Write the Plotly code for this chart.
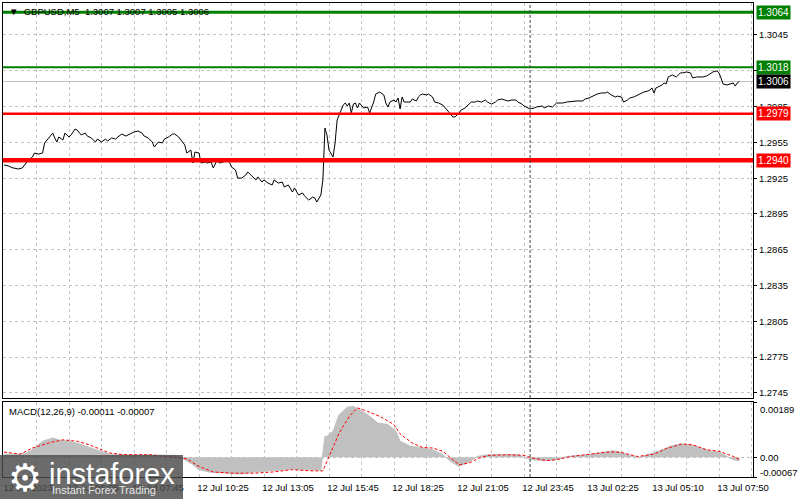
import plotly.graph_objects as go

# ---------------- data (bar index = 5-minute bars counted from 12 Jul 02:25) ----------------
price_bar = [0, 2, 4, 5, 7, 9, 10, 12, 14, 15, 17, 19, 20, 22, 24, 25, 26, 27, 29, 30, 32, 33, 35, 36, 38, 40,
             41, 43, 45, 46, 48, 50, 51, 53, 55, 56, 58, 60, 61, 63, 64, 66, 68, 69, 71, 73, 74, 76, 78, 79, 81,
             83, 84, 86, 88, 89, 90, 92, 93, 94, 96, 97, 99, 100, 102, 103, 105, 106, 108, 110, 111, 112, 114,
             115, 117, 119, 120, 122, 124, 125, 127, 128, 130, 132, 133, 135, 137, 138, 140, 142, 143, 145, 147,
             148, 150, 152, 153, 154, 156, 157, 158, 159, 160, 162, 163, 164, 166, 167, 168, 169, 170, 171, 172,
             173, 174, 175, 177, 179, 180, 182, 183, 185, 187, 188, 189, 190, 192, 193, 194, 195, 196, 197, 198,
             200, 201, 203, 204, 205, 206, 208, 209, 211, 212, 214, 216, 217, 219, 221, 222, 224, 225, 227, 228,
             230, 232, 233, 235, 237, 238, 240, 242, 243, 245, 247, 248, 250, 252, 253, 255, 256, 258, 259, 261,
             262, 265, 266, 268, 270, 272, 275, 277, 280, 282, 285, 286, 288, 289, 291, 292, 294, 296, 297, 299,
             301, 302, 304, 305, 307, 308, 310, 312, 314, 315, 317, 318, 319, 320, 321, 322, 324, 325, 326, 327,
             329, 331, 333, 334, 336, 338, 339, 341, 343, 344, 346, 348, 349, 351, 352, 353, 354, 356, 357, 359,
             360, 361, 362]
price_close = [1.29360, 1.29354, 1.29338, 1.29335, 1.29327, 1.29335, 1.29360, 1.29402, 1.29427, 1.29461,
               1.29452, 1.29461, 1.29545, 1.29587, 1.29628, 1.29587, 1.29553, 1.29595, 1.29570, 1.29628,
               1.29595, 1.29612, 1.29662, 1.29654, 1.29612, 1.29628, 1.29603, 1.29587, 1.29553, 1.29578,
               1.29553, 1.29578, 1.29561, 1.29587, 1.29578, 1.29595, 1.29620, 1.29603, 1.29612, 1.29628,
               1.29637, 1.29645, 1.29628, 1.29603, 1.29587, 1.29553, 1.29511, 1.29553, 1.29545, 1.29578,
               1.29595, 1.29620, 1.29620, 1.29595, 1.29545, 1.29528, 1.29461, 1.29486, 1.29377, 1.29469,
               1.29461, 1.29377, 1.29385, 1.29377, 1.29385, 1.29335, 1.29402, 1.29377, 1.29385, 1.29419,
               1.29385, 1.29344, 1.29318, 1.29251, 1.29251, 1.29276, 1.29302, 1.29268, 1.29235, 1.29260,
               1.29218, 1.29235, 1.29209, 1.29193, 1.29235, 1.29209, 1.29218, 1.29176, 1.29193, 1.29134,
               1.29168, 1.29109, 1.29126, 1.29100, 1.29067, 1.29092, 1.29084, 1.29050, 1.29109, 1.29235,
               1.29670, 1.29612, 1.29486, 1.29427, 1.29545, 1.29737, 1.29821, 1.29863, 1.29880, 1.29855,
               1.29880, 1.29796, 1.29871, 1.29880, 1.29838, 1.29880, 1.29838, 1.29846, 1.29796, 1.29888,
               1.29955, 1.29972, 1.29947, 1.29880, 1.29846, 1.29888, 1.29905, 1.29888, 1.29922, 1.29830,
               1.29930, 1.29888, 1.29888, 1.29888, 1.29913, 1.29897, 1.29930, 1.29947, 1.29955, 1.29947,
               1.29955, 1.29930, 1.29888, 1.29880, 1.29863, 1.29846, 1.29804, 1.29763, 1.29763, 1.29796,
               1.29821, 1.29838, 1.29855, 1.29888, 1.29888, 1.29897, 1.29888, 1.29905, 1.29888, 1.29871,
               1.29888, 1.29905, 1.29913, 1.29905, 1.29897, 1.29905, 1.29905, 1.29888, 1.29871, 1.29855,
               1.29838, 1.29830, 1.29838, 1.29846, 1.29855, 1.29838, 1.29855, 1.29846, 1.29880, 1.29880,
               1.29888, 1.29897, 1.29897, 1.29897, 1.29913, 1.29922, 1.29930, 1.29947, 1.29955, 1.29964,
               1.29964, 1.29972, 1.29947, 1.29930, 1.29938, 1.29930, 1.29888, 1.29905, 1.29922, 1.29930,
               1.29947, 1.29964, 1.29972, 1.29980, 1.29989, 1.30006, 1.29964, 1.30006, 1.30014, 1.30031,
               1.30048, 1.30039, 1.30098, 1.30115, 1.30098, 1.30132, 1.30132, 1.30140, 1.30132, 1.30090,
               1.30098, 1.30098, 1.30098, 1.30107, 1.30132, 1.30140, 1.30149, 1.30132, 1.30090, 1.30039,
               1.30031, 1.30039, 1.30048, 1.30022, 1.30048, 1.30060]

macd_bar = [0, 8, 11, 14, 19, 24, 28, 32, 37, 42, 47, 52, 60, 72, 84, 89, 93, 96, 101, 110, 116, 123, 132,
            142, 151, 156, 158, 159, 162, 165, 169, 172, 175, 179, 184, 189, 193, 195, 200, 205, 211, 216, 220,
            224, 228, 233, 238, 244, 253, 257, 260, 267, 272, 277, 285, 293, 300, 303, 310, 313, 317, 323, 328,
            333, 338, 343, 348, 352, 356, 359, 362]
macd_main = [0.00011, 0.00011, 0.00015, 0.00026, 0.00055, 0.00066, 0.00058, 0.00055, 0.00046, 0.00034,
             0.00021, 0.00011, 0.00009, 0.00009, 0.00007, -0.00008, -0.00025, -0.00042, -0.00050, -0.00054,
             -0.00057, -0.00050, -0.00046, -0.00040, -0.00043, -0.00043, 0.00072, 0.00072, 0.00089, 0.00146,
             0.00171, 0.00174, 0.00163, 0.00146, 0.00117, 0.00112, 0.00089, 0.00055, 0.00038, 0.00034,
             0.00026, 0.00009, -0.00014, -0.00031, -0.00019, 0.00003, 0.00009, 0.00009, 0.00009, -0.00002,
             -0.00008, -0.00011, -0.00008, 0.00003, 0.00007, 0.00015, 0.00023, 0.00018, 0.00003, 0.00000,
             0.00009, 0.00023, 0.00038, 0.00046, 0.00043, 0.00032, 0.00021, 0.00018, 0.00003, -0.00008,
             -0.00011]

signal_bar = [0, 8, 14, 23, 29, 36, 42, 47, 52, 59, 72, 80, 90, 96, 103, 113, 123, 132, 142, 151, 157, 160,
              165, 170, 174, 179, 185, 192, 195, 201, 206, 211, 216, 221, 224, 229, 234, 239, 248, 256, 260,
              267, 272, 279, 287, 297, 303, 312, 320, 326, 334, 339, 346, 352, 359, 362]
signal_val = [0.00018, 0.00011, 0.00032, 0.00051, 0.00060, 0.00055, 0.00043, 0.00030, 0.00015, 0.00009,
              0.00009, 0.00003, -0.00005, -0.00031, -0.00050, -0.00054, -0.00054, -0.00050, -0.00042, -0.00046,
              -0.00046, 0.00003, 0.00083, 0.00140, 0.00169, 0.00157, 0.00140, 0.00112, 0.00080, 0.00049,
              0.00034, 0.00032, 0.00021, -0.00008, -0.00025, -0.00019, -0.00002, 0.00007, 0.00009, 0.00007,
              -0.00002, -0.00011, -0.00008, 0.00003, 0.00009, 0.00018, 0.00018, 0.00003, 0.00011, 0.00030,
              0.00046, 0.00043, 0.00026, 0.00021, 0.00003, -0.00007]

x_tick_bars = [0, 16, 32, 48, 64, 80, 96, 112, 128, 144, 160, 176, 192, 208, 224, 240, 256, 272, 288, 304,
               320, 336, 352, 368]
x_tick_text = ["12 Jul 2023", "", "12 Jul 05:05", "", "12 Jul 07:45", "", "12 Jul 10:25", "", "12 Jul 13:05",
               "", "12 Jul 15:45", "", "12 Jul 18:25", "", "12 Jul 21:05", "", "12 Jul 23:45", "",
               "13 Jul 02:25", "", "13 Jul 05:10", "", "13 Jul 07:50", ""]
day_separator_bar = 259

price_ticks = [1.2745, 1.2775, 1.2805, 1.2835, 1.2865, 1.2895, 1.2925, 1.2955, 1.2985, 1.3015, 1.3045]
macd_ticks = [0.00189, 0.0, -0.00067]
macd_tick_text = ["0.00189", "0.00", "-0.00067"]

level_values = [1.3064, 1.3018, 1.2979, 1.2940]
level_colors = ["#008000", "#008000", "#ff0000", "#ff0000"]
level_widths = [3, 2, 2.5, 4.5]
current_price = 1.3006

title_text = "▼  GBPUSD,M5  1.3007 1.3007 1.3005 1.3006"
macd_text = "MACD(12,26,9) -0.00011 -0.00007"

# ---------------- figure ----------------
FONT = "Liberation Sans"
GRID = "#c4c4c4"

fig = go.Figure()
fig.add_trace(go.Scatter(x=price_bar, y=price_close, mode="lines",
                         line=dict(color="black", width=1), xaxis="x", yaxis="y",
                         hoverinfo="skip", showlegend=False))
fig.add_trace(go.Scatter(x=macd_bar, y=macd_main, mode="lines", fill="tozeroy",
                         fillcolor="#c0c0c0", line=dict(color="#c0c0c0", width=1),
                         xaxis="x2", yaxis="y2", hoverinfo="skip", showlegend=False))
fig.add_trace(go.Scatter(x=signal_bar, y=signal_val, mode="lines",
                         line=dict(color="#ff0000", width=1, dash="3px,2px"),
                         xaxis="x2", yaxis="y2", hoverinfo="skip", showlegend=False))

xr = [-0.49, 368.74]
common_x = dict(range=xr, tickmode="array", tickvals=x_tick_bars, showgrid=True, gridcolor=GRID,
                griddash="3px,3px", gridwidth=1, zeroline=False, showline=True, mirror=True,
                linecolor="black", linewidth=1, automargin=False)

shapes = []
for v, c, w in zip(level_values, level_colors, level_widths):
    shapes.append(dict(type="line", xref="paper", x0=0, x1=1, yref="y", y0=v, y1=v,
                       line=dict(color=c, width=w), layer="above"))
shapes.append(dict(type="line", xref="paper", x0=0, x1=1, yref="y", y0=current_price, y1=current_price,
                   line=dict(color="#c0c0c0", width=1), layer="below"))
for yr in ["y", "y2"]:
    shapes.append(dict(type="line", xref="x", x0=day_separator_bar, x1=day_separator_bar,
                       yref=yr + " domain", y0=0, y1=1,
                       line=dict(color="#404040", width=1, dash="3px,2px"), layer="above"))
# watermark box
shapes.append(dict(type="rect", xref="paper", yref="paper", x0=-0.004, x1=0.24, y0=-0.047, y1=0.0464,
                   fillcolor="rgba(75,75,75,0.82)", line=dict(width=0), layer="above"))

annotations = []
for v, c in zip(level_values, level_colors):
    annotations.append(dict(xref="paper", x=1, xanchor="left", xshift=3, yref="y", y=v, yanchor="middle",
                            text=f"{v:.4f}", showarrow=False, bgcolor=c, borderpad=1,
                            font=dict(family=FONT, size=10, color="white")))
annotations.append(dict(xref="paper", x=1, xanchor="left", xshift=3, yref="y", y=current_price,
                        yanchor="middle", text=f"{current_price:.4f}", showarrow=False, bgcolor="black",
                        borderpad=1, font=dict(family=FONT, size=10, color="white")))
annotations.append(dict(xref="paper", x=0.005, xanchor="left", yref="paper", y=1.0, yanchor="top", yshift=-1,
                        text=title_text, showarrow=False, font=dict(family=FONT, size=9.5, color="black")))
annotations.append(dict(xref="paper", x=0.005, xanchor="left", yref="y2 domain", y=1.0, yanchor="top",
                        yshift=-2, text=macd_text, showarrow=False,
                        font=dict(family=FONT, size=9.5, color="black")))
# MACD scale labels, placed inside the panel edges as the terminal does
for v, t, ys in zip(macd_ticks, macd_tick_text, [-7, 0, 5]):
    annotations.append(dict(xref="paper", x=1, xanchor="left", xshift=5, yref="y2", y=v, yanchor="middle",
                            yshift=ys, text=t, showarrow=False,
                            font=dict(family=FONT, size=9.5, color="black")))
# watermark texts
annotations.append(dict(xref="paper", x=0.029, xanchor="center", yref="paper", y=-0.002, yanchor="middle",
                        text="⚙", showarrow=False, font=dict(family="DejaVu Sans", size=38, color="white")))
annotations.append(dict(xref="paper", x=0.058, xanchor="left", yref="paper", y=0.006, yanchor="middle",
                        text="instaforex", showarrow=False,
                        font=dict(family=FONT, size=29, color="white")))
annotations.append(dict(xref="paper", x=0.062, xanchor="left", yref="paper", y=-0.027, yanchor="middle",
                        text="Instant Forex Trading", showarrow=False,
                        font=dict(family=FONT, size=11, color="#e6e6e6")))

fig.update_layout(
    width=800, height=499,
    margin=dict(l=3, r=47, t=3, b=22, autoexpand=False),
    paper_bgcolor="white", plot_bgcolor="white",
    showlegend=False,
    xaxis=dict(domain=[0, 1], anchor="y", showticklabels=False, ticks="", **common_x),
    xaxis2=dict(domain=[0, 1], anchor="y2", matches="x", ticktext=x_tick_text, ticks="",
                ticklabelshift=24, ticklabelstandoff=2,
                tickfont=dict(family=FONT, size=9.5, color="black"), **common_x),
    yaxis=dict(domain=[0.1667, 1], anchor="x", side="right", range=[1.27408, 1.30718],
               tickmode="array", tickvals=price_ticks, tickformat=".4f", ticks="outside", ticklen=3,
               tickcolor="black", showgrid=True, gridcolor=GRID, griddash="3px,3px", zeroline=False,
               showline=True, mirror=True, linecolor="black", linewidth=1, automargin=False,
               tickfont=dict(family=FONT, size=9.5, color="black")),
    yaxis2=dict(domain=[0, 0.1582], anchor="x2", side="right", range=[-0.00067, 0.00189],
                tickmode="array", tickvals=macd_ticks, showticklabels=False, ticks="outside", ticklen=3,
                tickcolor="black", showgrid=True, gridcolor=GRID, griddash="3px,3px", zeroline=False,
                showline=True, mirror=True, linecolor="black", linewidth=1, automargin=False),
    shapes=shapes,
    annotations=annotations,
)

fig.write_html("out.html", config={"displayModeBar": False},
               post_script="document.body.style.margin='0px';document.body.style.overflow='hidden';")
